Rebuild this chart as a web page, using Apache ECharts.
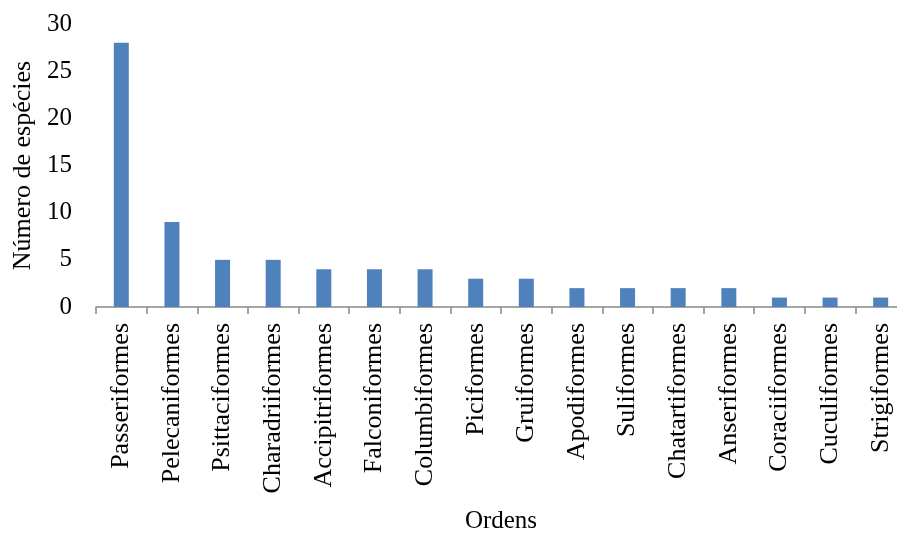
<!DOCTYPE html>
<html>
<head>
<meta charset="utf-8">
<script src="https://cdn.jsdelivr.net/npm/echarts@6/dist/echarts.min.js"></script>
<style>
  html, body { margin: 0; padding: 0; background: #fff; }
  #chart { width: 897px; height: 535px; }
</style>
</head>
<body>
<div id="chart"></div>
<script>
// Bird orders and number of species in each
const ordens = [
  'Passeriformes', 'Pelecaniformes', 'Psittaciformes', 'Charadriiformes',
  'Accipitriformes', 'Falconiformes', 'Columbiformes', 'Piciformes',
  'Gruiformes', 'Apodiformes', 'Suliformes', 'Chatartiformes',
  'Anseriformes', 'Coraciiformes', 'Cuculiformes', 'Strigiformes'
];
const especies = [28, 9, 5, 5, 4, 4, 4, 3, 3, 2, 2, 2, 2, 1, 1, 1];
const yTicks = [0, 5, 10, 15, 20, 25, 30];

const font = '"Liberation Serif", "Times New Roman", serif';
const chart = echarts.init(document.getElementById('chart'), null, { renderer: 'canvas' });

chart.setOption({
  animation: false,
  grid: {
    left: 96, top: 24, width: 810, height: 283,
    containLabel: false, outerBoundsMode: 'none'
  },
  xAxis: {
    type: 'category',
    data: ordens,
    name: 'Ordens',
    nameLocation: 'middle',
    nameGap: 202,
    nameTextStyle: { fontFamily: font, fontSize: 25, color: '#000' },
    axisLine: { lineStyle: { color: '#888', width: 1.5 } },
    axisTick: { show: true, length: 7, lineStyle: { color: '#888', width: 1.5 } },
    axisLabel: {
      rotate: 90, interval: 0, margin: 16,
      fontFamily: font, fontSize: 26, color: '#000'
    }
  },
  yAxis: {
    type: 'value',
    min: yTicks[0],
    max: yTicks[yTicks.length - 1],
    interval: 5,
    name: 'Número de espécies',
    nameLocation: 'middle',
    nameGap: 60,
    nameTextStyle: { fontFamily: font, fontSize: 26, color: '#000' },
    axisLine: { show: false },
    axisTick: { show: false },
    splitLine: { show: false },
    axisLabel: { margin: 24, fontFamily: font, fontSize: 25, color: '#000' }
  },
  series: [{
    type: 'bar',
    data: especies,
    barWidth: 15,
    itemStyle: { color: '#4F81BD' }
  }]
});
</script>
</body>
</html>
